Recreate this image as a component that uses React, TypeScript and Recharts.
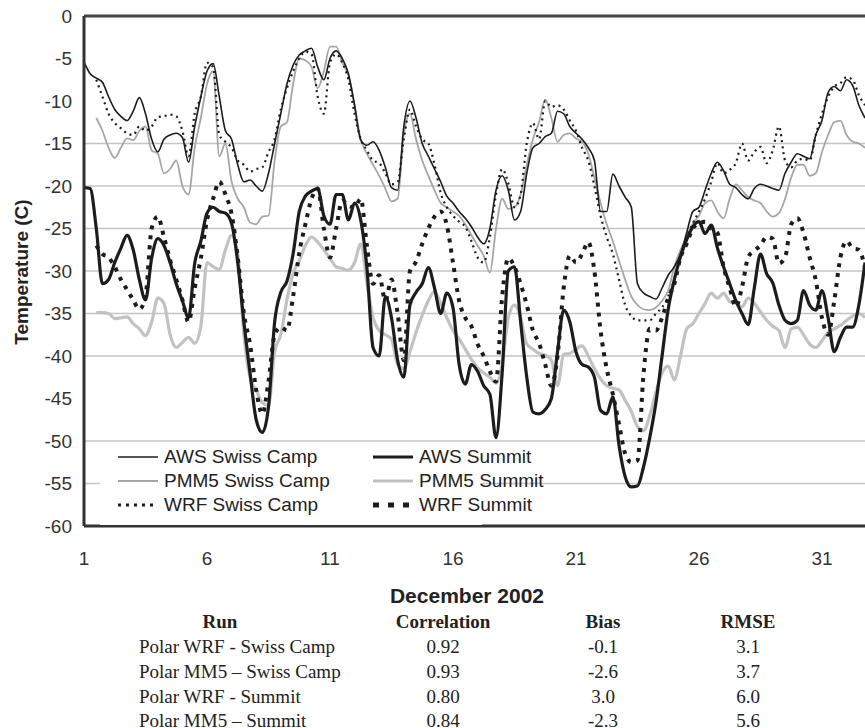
import { LineChart, Line, XAxis, YAxis, CartesianGrid, ReferenceLine } from 'recharts'

// sampling grid: every 6 hours through December 2002
const DAYS = Array.from({ length: 128 }, (_, i) => 1 + i * 0.25)
const X_TICKS = [1, 6, 11, 16, 21, 26, 31]
const Y_TICKS = [0, -5, -10, -15, -20, -25, -30, -35, -40, -45, -50, -55, -60]
const GRID_VALUES = [-15, -20, -25, -30, -35, -40, -50, -55]

// temperatures (C), four values per day
const AWS_SWISS = [
  -5.4, -6.8, -7.3, -7.8, -9.5, -11, -11.8, -12.3, -11.2, -9.6, -11.5, -14.5,
  -16, -14.5, -14, -13.8, -14.3, -17.2, -13, -9.5, -6.5, -5.6, -9.5, -13.5,
  -14.5, -17.5, -19.5, -19.3, -20, -20.6, -18.5, -15, -11.5, -8, -5.8, -4.6,
  -4.1, -3.8, -6, -7.5, -5, -4.1, -5, -6.8, -10.5, -14.6, -15.2, -14.8,
  -15.8, -17.8, -20.2, -20.5, -13, -10, -12, -15, -16.5, -18, -19.5, -21.2,
  -22, -23, -23.8, -24.8, -26, -26.8, -25, -20.5, -18.8, -20.5, -24, -23,
  -18.5, -15.5, -15, -14.2, -13.8, -11.2, -11.5, -13, -13.8, -14.5, -15.5, -17,
  -23, -23, -18.6, -20, -21.3, -22.5, -31.5, -32.6, -33, -33.3, -32, -30.5,
  -29.5, -28, -25.5, -23, -22.5, -20.5, -18.5, -17.2, -18.2, -19.8, -20.2, -21,
  -21.5, -20.3, -19.8, -20, -20.3, -20.5, -18.5, -17.2, -16.2, -16.5, -16.8, -14,
  -12.3, -9, -8.3, -8.8, -7.5, -8.2, -10.5, -12,
]
const PMM5_SWISS = [
  null, null, -12, -13.5, -15.5, -16.7, -15.5, -14.4, -14.6, -13.5, -13, -15.8,
  -16.2, -18.5, -18, -17, -20, -21, -15.5, -12, -8, -6.5, -16.5, -15,
  -19.5, -21.5, -22.5, -24.3, -24.5, -23.6, -23.5, -17, -13, -12.5, -8, -5,
  -5.2, -6, -8.5, -6.5, -3.6, -3.6, -5.5, -7, -10.5, -14.5, -16.2, -17.5,
  -18.8, -20.3, -21.8, -21.5, -14, -11.5, -14.5, -17, -18.8, -20.5, -22, -22.5,
  -23, -23.5, -24.5, -25.8, -27, -28.2, -30.2, -25, -21.5, -22.7, -22.5, -21,
  -17.5, -14.5, -12.5, -9.8, -12, -14.8, -14, -13.8, -14.4, -14.8, -16.2, -19,
  -22, -24.5, -26.5, -28.8, -31, -33, -34, -34.5, -34.6, -34.3, -33.5, -32.3,
  -29.5, -27.5, -26, -24.4, -23.5, -22, -21.7, -23, -23.8, -21.5, -19.8, -20.5,
  -21.3, -21.7, -22, -23, -23.6, -23.2, -21.5, -19, -17.5, -17.5, -18.8, -18.5,
  -16, -14, -12.5, -12.3, -14, -14.8, -15, -15.5,
]
const WRF_SWISS = [
  null, null, -7.5, -9.5, -11.5, -12.6, -13.2, -13.8, -14, -13, -13.5, -13,
  -11.9, -11.8, -11.6, -11.8, -13.5, -16.5, -11.5, -9.5, -5.5, -6, -14, -14.8,
  -15.5, -17, -17.5, -18.3, -18, -17.8, -16, -14.5, -11, -8.5, -6.5, -5,
  -4.2, -4.5, -9.5, -11.5, -5.5, -4.5, -5.5, -7.5, -11.5, -14.5, -15.8, -17,
  -17.3, -18.5, -19.8, -19.5, -14.5, -11, -13, -14.5, -15, -17.5, -20.8, -22.5,
  -23.5, -24.2, -24.8, -26.5, -28.4, -29, -26, -21, -18, -19.7, -22.5, -21,
  -15, -12.6, -14.5, -10, -10.7, -10.5, -11, -12.3, -13.5, -15.5, -17, -20,
  -23.5, -26, -28, -31, -34, -35.3, -35.8, -35.8, -35.8, -35, -34.3, -33,
  -31, -28.5, -26, -24.4, -23, -21.5, -19.5, -17.3, -18.5, -18.1, -17.3, -15,
  -17, -16, -15.4, -17.3, -15.8, -13, -17, -17.8, -17, -16.8, -17, -14,
  -11.5, -9.5, -8.3, -7.9, -7.2, -7.5, -9.3, -10.5,
]
const AWS_SUMMIT = [
  -20.2, -20.3, -25, -31.5, -31, -29, -27.3, -25.8, -27.5, -31, -33.4, -28.5,
  -26.2, -27, -29, -31.5, -33.5, -35.5, -29.1, -26.5, -23.2, -22.5, -23, -23.2,
  -24.4, -29, -36, -42, -47.5, -49, -46, -36, -32.5, -31.2, -28, -23,
  -21.2, -20.6, -20.3, -23.5, -24.5, -21, -21, -24, -22, -24, -29.6, -39,
  -40, -33, -35.5, -40.5, -42.5, -34, -32.5, -31.5, -29.6, -32, -35, -32.6,
  -34.3, -41, -43.3, -41, -41.8, -43.5, -44.5, -49.6, -42, -30, -29.5, -36,
  -42.5, -46.6, -46.8, -46.3, -45, -39.5, -34.6, -36, -39.5, -41, -41.3, -42.5,
  -46.4, -46.8, -44.8, -50.5, -54.2, -55.4, -55.3, -53, -49.6, -45.5, -40, -34.5,
  -31, -28.3, -26.3, -24.8, -24.2, -25.6, -24.6, -27.3, -29.5, -31.5, -33.5, -35,
  -36.3, -32, -28, -30.3, -31.4, -34, -35.8, -36.2, -35.8, -32.3, -34, -34.6,
  -32.3, -35.5, -39.5, -37.8, -36.6, -36.6, -34, -29,
]
const PMM5_SUMMIT = [
  null, null, -34.9, -34.9, -35, -35.6, -35.5, -35.4, -36.2, -36.8, -37.6, -36,
  -33.2, -33.8, -37.5, -39, -38.4, -37.8, -38.5, -36.5, -29, -29.5, -29.8, -27.5,
  -25.8, -28, -37.5, -42.5, -44, -45.5, -45.8, -39.5, -37.5, -33.4, -30.3, -28.8,
  -27, -26, -26.6, -27.5, -28.5, -29.5, -29.7, -29.9, -29, -26.8, -31.4, -35.5,
  -37, -37.5, -38, -41, -41.5, -39.5, -37.2, -35.2, -33.5, -32.4, -33.8, -35.5,
  -37, -38, -39.2, -40.4, -41.4, -42, -42.5, -43.2, -41, -35.5, -34, -35.5,
  -38.6, -39.2, -39.7, -39.9, -40.5, -43.5, -39.8, -39.7, -39.2, -38.8, -40, -41.5,
  -42.7, -43.5, -43.8, -44, -45.2, -46.5, -48.3, -48.8, -47, -44.3, -42, -41.2,
  -42.8, -40, -36.8, -36.2, -35, -33.8, -32.6, -33.2, -32.6, -33.6, -33.8, -34.2,
  -33.2, -33.8, -34.8, -35.8, -36.5, -37, -39, -36.8, -36.6, -37.5, -38.6, -39,
  -38.2, -37.2, -36.8, -36.4, -35.8, -35.3, -35, -35.5,
]
const WRF_SUMMIT = [
  null, null, -27, -28, -28.4, -29.5, -31, -32.2, -33.4, -34.5, -33, -25,
  -23.6, -26, -28.7, -31, -33.4, -36, -32, -28.5, -24, -21.5, -19.5, -21,
  -23.3, -28.4, -35, -38.6, -44, -46.8, -43, -37.5, -36.6, -37, -33, -27.9,
  -24.5, -21.5, -20.3, -25, -28.4, -25, -21.7, -22.3, -22.5, -21.5, -27, -31.5,
  -30.5, -33.5, -31, -35, -40.5, -30, -28.9, -26.8, -25, -23.6, -23, -24.6,
  -29, -33.5, -35.5, -36.5, -38.6, -40, -41.8, -43, -33, -28.5, -29.5, -31.5,
  -34, -37, -38.5, -41, -43.5, -40, -32, -28.2, -29, -28, -26.6, -30,
  -37, -41.5, -44.5, -48, -51.5, -52.5, -52.3, -42, -36.8, -37, -35.5, -33.2,
  -31.5, -28.4, -26.8, -25, -24.4, -24.2, -25, -25.5, -29.5, -32, -34.2, -31.9,
  -28.4, -27.6, -27, -26, -26.2, -29.1, -28.4, -24.5, -23.8, -25.5, -28.4, -31.1,
  -35.5, -37.5, -33.5, -28.4, -26.5, -27.3, -27.5, -29.6,
]

// statistics table under the chart
const RUNS = ['Polar WRF - Swiss Camp', 'Polar MM5 \u2013 Swiss Camp', 'Polar WRF - Summit', 'Polar MM5 \u2013 Summit']
const CORRELATION = ['0.92', '0.93', '0.80', '0.84']
const BIAS = ['-0.1', '-2.6', '3.0', '-2.3']
const RMSE = ['3.1', '3.7', '6.0', '5.6']

const SANS = '"Liberation Sans", Arial, sans-serif'
const SERIF = '"Liberation Serif", "Times New Roman", serif'

const SERIES = [
  { key: 'pmm5Summit', name: 'PMM5 Summit', values: PMM5_SUMMIT, color: '#c2c2c2', width: 3.2, dash: undefined },
  { key: 'pmm5Swiss', name: 'PMM5 Swiss Camp', values: PMM5_SWISS, color: '#a6a6a6', width: 1.8, dash: undefined },
  { key: 'awsSwiss', name: 'AWS Swiss Camp', values: AWS_SWISS, color: '#1c1c1c', width: 1.6, dash: undefined },
  { key: 'awsSummit', name: 'AWS Summit', values: AWS_SUMMIT, color: '#1c1c1c', width: 3.2, dash: undefined },
  { key: 'wrfSwiss', name: 'WRF Swiss Camp', values: WRF_SWISS, color: '#1c1c1c', width: 2.2, dash: '2 4' },
  { key: 'wrfSummit', name: 'WRF Summit', values: WRF_SUMMIT, color: '#1c1c1c', width: 4, dash: '4 6' },
]

const LEGEND_COLS = [
  ['awsSwiss', 'pmm5Swiss', 'wrfSwiss'],
  ['awsSummit', 'pmm5Summit', 'wrfSummit'],
]

function LegendBox() {
  const colX = [18, 273]
  const rowY = [14, 38, 62]
  return (
    <div style={{ position: 'absolute', left: 100, top: 443, width: 382, height: 82, background: '#fff' }}>
      {LEGEND_COLS.map((col, ci) =>
        col.map((key, ri) => {
          const s = SERIES.find((x) => x.key === key)!
          const legendDash = s.key === 'wrfSummit' ? '6 9' : s.dash ? '3 5' : undefined
          return (
            <div key={key} style={{ position: 'absolute', left: colX[ci], top: rowY[ri] - 12, height: 24, display: 'flex', alignItems: 'center' }}>
              <svg width={40} height={10} style={{ marginRight: 6 }}>
                <line x1={0} y1={5} x2={40} y2={5} stroke={s.color} strokeWidth={s.width + (s.dash ? 1 : 0)} strokeDasharray={legendDash} />
              </svg>
              <span style={{ fontFamily: SANS, fontSize: 19, color: '#222', whiteSpace: 'nowrap' }}>{s.name}</span>
            </div>
          )
        })
      )}
    </div>
  )
}

function StatsTable() {
  const cols = [443, 603, 748]
  const rowY = [647, 672, 697, 721]
  const cell = (x: number, y: number, text: string, bold = false) => (
    <div key={`${x}-${y}`} style={{ position: 'absolute', left: x, top: y, transform: 'translate(-50%, -50%)', fontFamily: SERIF, fontSize: 19, fontWeight: bold ? 'bold' : 'normal', color: '#222', whiteSpace: 'nowrap' }}>
      {text}
    </div>
  )
  return (
    <>
      {cell(220, 622, 'Run', true)}
      {cell(cols[0], 622, 'Correlation', true)}
      {cell(cols[1], 622, 'Bias', true)}
      {cell(cols[2], 622, 'RMSE', true)}
      {RUNS.map((run, i) => (
        <div key={run} style={{ position: 'absolute', left: 139, top: rowY[i], transform: 'translateY(-50%)', fontFamily: SERIF, fontSize: 19, color: '#222', whiteSpace: 'nowrap' }}>
          {run}
        </div>
      ))}
      {CORRELATION.map((v, i) => cell(cols[0], rowY[i], v))}
      {BIAS.map((v, i) => cell(cols[1], rowY[i], v))}
      {RMSE.map((v, i) => cell(cols[2], rowY[i], v))}
    </>
  )
}

export default function App() {
  const data = DAYS.map((day, i) => {
    const row: Record<string, number | null> = { day }
    SERIES.forEach((s) => {
      row[s.key] = s.values[i]
    })
    return row
  })

  return (
    <div style={{ position: 'absolute', left: 0, top: 0, width: 865, height: 728, background: '#fff', overflow: 'hidden' }}>
      <LineChart width={865} height={600} data={data} margin={{ top: 16, right: 0, bottom: 40, left: 0 }}>
        <CartesianGrid vertical={false} horizontalValues={GRID_VALUES} stroke="#c4c4c4" strokeWidth={1.5} />
        <XAxis
          dataKey="day"
          type="number"
          domain={[1, 32.75]}
          ticks={X_TICKS}
          interval={0}
          height={34}
          tickLine={false}
          tickMargin={20}
          axisLine={{ stroke: '#333', strokeWidth: 3 }}
          tick={{ fontSize: 19, fill: '#333', fontFamily: SANS }}
        />
        <YAxis
          type="number"
          domain={[-60, 0]}
          ticks={Y_TICKS}
          interval={0}
          width={84}
          tickLine={false}
          tickMargin={6}
          axisLine={{ stroke: '#333', strokeWidth: 3 }}
          tick={{ fontSize: 19, fill: '#333', fontFamily: SANS }}
        />
        {SERIES.map((s) => (
          <Line
            key={s.key}
            dataKey={s.key}
            name={s.name}
            type="monotone"
            stroke={s.color}
            strokeWidth={s.width}
            strokeDasharray={s.dash}
            dot={false}
            activeDot={false}
            isAnimationActive={false}
          />
        ))}
        <ReferenceLine y={0} stroke="#444" strokeWidth={3} />
      </LineChart>

      <LegendBox />

      <div style={{ position: 'absolute', left: 22, top: 272, transform: 'translate(-50%, -50%) rotate(-90deg)', fontFamily: SANS, fontSize: 19, fontWeight: 'bold', color: '#222', whiteSpace: 'nowrap' }}>
        Temperature (C)
      </div>
      <div style={{ position: 'absolute', left: 467, top: 596, transform: 'translate(-50%, -50%)', fontFamily: SANS, fontSize: 21, fontWeight: 'bold', color: '#222', whiteSpace: 'nowrap' }}>
        December 2002
      </div>
      <StatsTable />
    </div>
  )
}
